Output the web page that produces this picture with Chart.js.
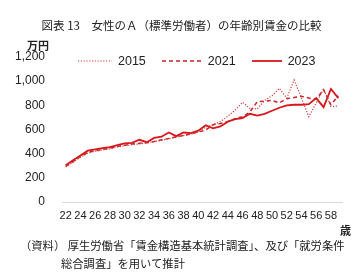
<!DOCTYPE html>
<html>
  <head>
    <meta charset="utf-8">
    <title>女性のＡ（標準労働者）の年齢別賃金の比較</title>
    <style>
      body { margin: 0; background: #fff; font-family: "Noto Sans CJK JP", sans-serif; color: #222; }
      #wrap { position: relative; width: 363px; height: 278px; overflow: hidden; }
      #MyCanvas { position: absolute; left: 0; top: 0; }
      .txt { position: absolute; white-space: nowrap; }
      #title { left: 0; width: 363px; top: 17px; text-align: center; font-size: 11.5px; }
      #unit { left: 27px; top: 37px; font-size: 11px; font-weight: bold; }
      #age { left: 340px; top: 222px; font-size: 11px; font-weight: bold; }
      #legend { left: 78px; top: 54px; font: 12.5px "Liberation Sans", sans-serif; display: flex; align-items: center; }
      #legend span { margin: 0 0 0 6px; }
      #legend svg { display: block; }
      #note1 { left: 20px; top: 237px; font-size: 11.3px; }
      #note2 { left: 61px; top: 255px; font-size: 11.3px; }
    </style>
  </head>
  <body>
    <div id="wrap">
      <canvas id="MyCanvas" width="363" height="278"></canvas>
      <div class="txt" id="title">図表 13　女性のＡ（標準労働者）の年齢別賃金の比較</div>
      <div class="txt" id="unit">万円</div>
      <div class="txt" id="legend">
        <svg width="34" height="4"><line x1="0" y1="2" x2="34" y2="2" stroke="#d23c3c" stroke-width="1.2" stroke-dasharray="1.2 1.6"/></svg><span>2015</span>
        <svg width="40" height="4" style="margin-left:16px"><line x1="0" y1="2" x2="40" y2="2" stroke="#c8232a" stroke-width="1.5" stroke-dasharray="4 3"/></svg><span>2021</span>
        <svg width="30" height="4" style="margin-left:16px"><line x1="0" y1="2" x2="30" y2="2" stroke="#d8161b" stroke-width="1.8"/></svg><span>2023</span>
      </div>
      <div class="txt" id="age">歳</div>
      <div class="txt" id="note1">（資料） 厚生労働省「賃金構造基本統計調査」、及び「就労条件</div>
      <div class="txt" id="note2">総合調査」を用いて推計</div>
    </div>
    <script src="https://cdn.jsdelivr.net/npm/chart.js@4/dist/chart.umd.min.js"></script>
    <script>
      // 年齢 22〜59歳
      const ages = [22,23,24,25,26,27,28,29,30,31,32,33,34,35,36,37,38,39,40,41,
                    42,43,44,45,46,47,48,49,50,51,52,53,54,55,56,57,58,59];
      // 万円
      const wage2015 = [290,330,370,405,420,430,440,455,465,475,480,490,500,510,525,535,550,560,580,620,
                        640,665,710,760,825,775,770,840,880,940,860,1010,860,705,820,935,790,795];
      const wage2021 = [295,335,375,410,425,435,445,460,470,480,486,490,500,515,525,540,550,565,580,595,
                        640,650,665,690,705,745,830,835,840,820,855,865,875,860,850,930,805,880];
      const wage2023 = [305,345,385,425,435,445,455,470,485,490,515,495,530,540,575,545,575,570,590,635,
                        610,625,665,685,695,730,715,730,755,780,800,805,805,810,860,785,935,860];
      const yTicks = [0,200,400,600,800,1000,1200];

      const sans = '"Liberation Sans", sans-serif';
      const ctx = document.getElementById('MyCanvas').getContext('2d');
      const myChart = new Chart(ctx, {
        type: 'line',
        data: {
          labels: ages,
          datasets: [
            { label: '2015', data: wage2015, borderColor: '#d23c3c', borderWidth: 1.2, borderDash: [1.2, 1.6] },
            { label: '2021', data: wage2021, borderColor: '#c8232a', borderWidth: 1.5, borderDash: [4, 3] },
            { label: '2023', data: wage2023, borderColor: '#d8161b', borderWidth: 1.8 }
          ]
        },
        options: {
          responsive: false,
          animation: false,
          layout: { padding: { left: 0, right: 21, top: 57, bottom: 0 } },
          elements: { point: { radius: 0 }, line: { tension: 0 } },
          plugins: { legend: { display: false }, tooltip: { enabled: false } },
          scales: {
            x: {
              offset: true,
              grid: { display: false, drawTicks: false },
              border: { display: true, color: '#d9d9d9', width: 1 },
              ticks: {
                autoSkip: false, maxRotation: 0, padding: 7, color: '#222',
                font: { family: sans, size: 11 },
                callback: function (v, i) { return ages[i] % 2 === 0 ? ages[i] : ''; }
              },
              afterFit: function (s) { s.height = 76; }
            },
            y: {
              min: 0, max: 1200,
              grid: { display: false, drawTicks: false },
              border: { display: false },
              afterBuildTicks: function (s) { s.ticks = yTicks.map(v => ({ value: v })); },
              ticks: {
                padding: 17, color: '#222',
                font: { family: sans, size: 12 },
                callback: function (v) { return v.toLocaleString('en-US'); }
              },
              afterFit: function (s) { s.width = 62; }
            }
          }
        }
      });
    </script>
  </body>
</html>
